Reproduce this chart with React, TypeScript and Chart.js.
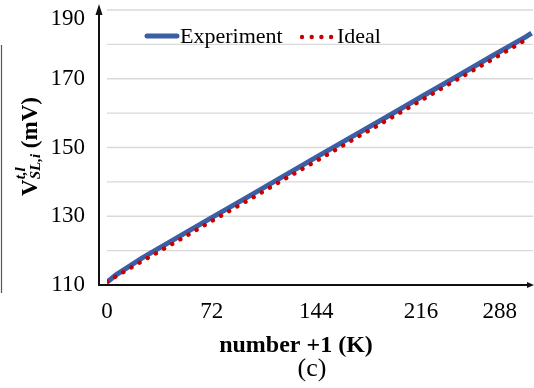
import React, { useEffect, useRef } from "react";
import { Chart, registerables } from "chart.js";

Chart.register(...registerables);

// ---- data ----
const EXPERIMENT_X = [0, 6, 24, 48, 72, 96, 120, 144, 168, 192, 216, 240, 264, 288, 292];
const EXPERIMENT_Y = [110.8, 112.9, 117.8, 123.7, 129.6, 135.4, 141.3, 147.2, 153.0, 158.8, 164.7, 170.5, 176.4, 182.2, 183.3];
const IDEAL_X = [0, 24, 48, 72, 96, 120, 144, 168, 192, 216, 240, 264, 288, 290];
const IDEAL_Y = [111.0, 116.9, 122.7, 128.6, 134.4, 140.3, 146.1, 152.0, 157.8, 163.7, 169.6, 175.4, 181.3, 181.8];
const X_TICKS = [0, 72, 144, 216, 288];
const X_TICK_LABELS = ["0", "72", "144", "216", "288"];
const Y_TICKS = [110, 130, 150, 170, 190];
const Y_TICK_LABELS = ["110", "130", "150", "170", "190"];
const Y_GRID = [120, 130, 140, 150, 160, 170, 180, 190];
const SERIES_NAMES = ["Experiment", "Ideal"];
const X_TITLE = "number +1 (K)";
const CAPTION = "(c)";

const BLUE = "#3A5FA6";
const RED = "#C80000";
const SERIF = '"Liberation Serif", "Times New Roman", serif';

const decor = {
  id: "decor",
  beforeDatasetsDraw(chart: any) {
    const { ctx, chartArea, scales } = chart;
    const y = scales.y;
    ctx.save();
    ctx.strokeStyle = "#d9d9d9";
    ctx.lineWidth = 1.3;
    for (const v of Y_GRID) {
      const py = y.getPixelForValue(v);
      ctx.beginPath();
      ctx.moveTo(chartArea.left, py);
      ctx.lineTo(chartArea.right, py);
      ctx.stroke();
    }
    ctx.restore();
  },
  afterDatasetsDraw(chart: any) {
    const { ctx, chartArea, scales, width } = chart;
    const x = scales.x;
    const y = scales.y;
    const axisX = chartArea.left - 8;
    const axisY = chartArea.bottom;
    ctx.save();

    // left frame line
    ctx.strokeStyle = "#555";
    ctx.lineWidth = 1.2;
    ctx.beginPath();
    ctx.moveTo(1.5, 45);
    ctx.lineTo(1.5, 293);
    ctx.stroke();

    // axes with arrows
    ctx.strokeStyle = "#111";
    ctx.fillStyle = "#111";
    ctx.lineWidth = 2;
    ctx.beginPath();
    ctx.moveTo(axisX, axisY + 1);
    ctx.lineTo(axisX, 12);
    ctx.stroke();
    ctx.beginPath();
    ctx.moveTo(axisX, 4);
    ctx.lineTo(axisX - 3.5, 15);
    ctx.lineTo(axisX + 3.5, 15);
    ctx.closePath();
    ctx.fill();

    ctx.beginPath();
    ctx.moveTo(axisX - 1, axisY);
    ctx.lineTo(width - 5, axisY);
    ctx.stroke();
    ctx.beginPath();
    ctx.moveTo(width, axisY);
    ctx.lineTo(width - 7, axisY - 3);
    ctx.lineTo(width - 7, axisY + 3);
    ctx.closePath();
    ctx.fill();

    // tick labels
    ctx.fillStyle = "#000";
    ctx.font = `23px ${SERIF}`;
    ctx.textAlign = "right";
    ctx.textBaseline = "middle";
    Y_TICKS.forEach((v, i) => {
      const py = Math.max(y.getPixelForValue(v), 19);
      ctx.fillText(Y_TICK_LABELS[i], 85, py);
    });
    ctx.textAlign = "center";
    ctx.textBaseline = "alphabetic";
    X_TICKS.forEach((v, i) => {
      const label = X_TICK_LABELS[i];
      const w = ctx.measureText(label).width;
      let px = x.getPixelForValue(v);
      px = Math.min(px, 517 - w / 2);
      ctx.fillText(label, px, 318);
    });

    // x title and caption
    ctx.font = `bold 24px ${SERIF}`;
    ctx.fillText(X_TITLE, 296, 352);
    ctx.font = `26px ${SERIF}`;
    ctx.fillText(CAPTION, 312, 376);

    // y title (rotated, with sub/superscripts)
    ctx.save();
    ctx.translate(37, 146.5);
    ctx.rotate(-Math.PI / 2);
    ctx.textAlign = "left";
    const mainFont = `bold 23px ${SERIF}`;
    const smallFont = `bold italic 15px ${SERIF}`;
    ctx.font = mainFont;
    const wV = ctx.measureText("V").width;
    const wRest = ctx.measureText(" (mV)").width;
    ctx.font = smallFont;
    const wSub = ctx.measureText("SL,i").width;
    const wSup = ctx.measureText("t,l").width;
    const total = wV + Math.max(wSub, wSup) + wRest;
    const sx = -total / 2;
    ctx.font = mainFont;
    ctx.fillText("V", sx, 0);
    ctx.font = smallFont;
    ctx.fillText("SL,i", sx + wV, 3);
    ctx.fillText("t,l", sx + wV, -12);
    ctx.font = mainFont;
    ctx.fillText(" (mV)", sx + wV + Math.max(wSub, wSup), 0);
    ctx.restore();

    // legend
    ctx.lineCap = "round";
    ctx.strokeStyle = BLUE;
    ctx.lineWidth = 5;
    ctx.beginPath();
    ctx.moveTo(147, 36);
    ctx.lineTo(177, 36);
    ctx.stroke();
    ctx.fillStyle = RED;
    for (let k = 0; k < 4; k++) {
      ctx.beginPath();
      ctx.arc(302 + k * 9.7, 37, 2.2, 0, Math.PI * 2);
      ctx.fill();
    }
    ctx.fillStyle = "#000";
    ctx.font = `22px ${SERIF}`;
    ctx.textAlign = "left";
    ctx.fillText(SERIES_NAMES[0], 180, 43);
    ctx.fillText(SERIES_NAMES[1], 337, 43);

    ctx.restore();
  },
};

export default function App() {
  const ref = useRef<HTMLCanvasElement | null>(null);
  useEffect(() => {
    if (!ref.current) return;
    const chart = new Chart(ref.current, {
      type: "line",
      data: {
        datasets: [
          {
            label: SERIES_NAMES[1],
            data: IDEAL_X.map((v, i) => ({ x: v, y: IDEAL_Y[i] })),
            borderColor: RED,
            borderWidth: 4.4,
            borderDash: [0.1, 9.3],
            borderCapStyle: "round",
            pointRadius: 0,
            tension: 0,
            order: 0,
          },
          {
            label: SERIES_NAMES[0],
            data: EXPERIMENT_X.map((v, i) => ({ x: v, y: EXPERIMENT_Y[i] })),
            borderColor: BLUE,
            borderWidth: 5,
            borderCapStyle: "butt",
            pointRadius: 0,
            tension: 0,
            order: 1,
          },
        ],
      },
      options: {
        responsive: false,
        animation: false,
        layout: { padding: { left: 107, right: 1, top: 10, bottom: 103 } },
        plugins: { legend: { display: false }, tooltip: { enabled: false } },
        scales: {
          x: { type: "linear", min: 0, max: 293, display: false },
          y: { type: "linear", min: 110, max: 190, display: false },
        },
      },
      plugins: [decor],
    });
    return () => chart.destroy();
  }, []);
  return (
    <div style={{ position: "fixed", left: 0, top: 0, width: 534, height: 388, background: "#fff" }}>
      <canvas ref={ref} width={534} height={388} />
    </div>
  );
}
